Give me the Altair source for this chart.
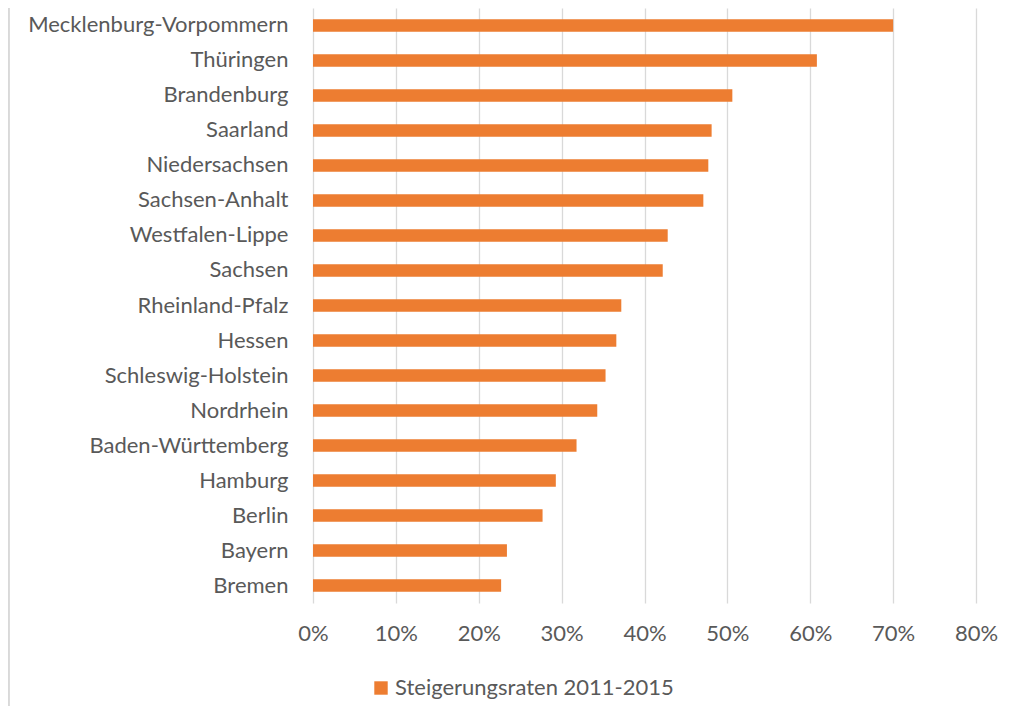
import altair as alt
import pandas as pd

states = ["Mecklenburg-Vorpommern", "Thüringen", "Brandenburg", "Saarland",
          "Niedersachsen", "Sachsen-Anhalt", "Westfalen-Lippe", "Sachsen",
          "Rheinland-Pfalz", "Hessen", "Schleswig-Holstein", "Nordrhein",
          "Baden-Württemberg", "Hamburg", "Berlin", "Bayern", "Bremen"]
rates = [0.700, 0.608, 0.506, 0.481, 0.477, 0.471, 0.428, 0.422,
         0.372, 0.366, 0.353, 0.343, 0.318, 0.293, 0.277, 0.234, 0.227]
series = "Steigerungsraten 2011-2015"

df = pd.DataFrame({"state": states, "rate": rates, "series": [series] * len(states)})

FONT = "Lato"
GRAY = "#595959"

bars = alt.Chart(df).mark_bar(color="#ED7D31").encode(
    y=alt.Y("state:N", sort=states,
            scale=alt.Scale(paddingInner=0.645, paddingOuter=0.32),
            axis=alt.Axis(title=None, domain=False, ticks=False, grid=False,
                          labelFont=FONT, labelFontSize=22, labelColor=GRAY,
                          labelPadding=25, labelLimit=400)),
    x=alt.X("rate:Q", scale=alt.Scale(domain=[0, 0.8], nice=False),
            axis=alt.Axis(title=None, format=".0%", values=[i / 10 for i in range(9)],
                          domain=False, ticks=False, grid=True, labelFlush=False,
                          gridColor="#d9d9d9", gridWidth=1.3,
                          labelFont=FONT, labelFontSize=22, labelColor=GRAY,
                          labelPadding=20)),
    color=alt.Color("series:N", scale=alt.Scale(range=["#ED7D31"]),
                    legend=alt.Legend(title=None, orient="none", legendX=57, legendY=669,
                                      symbolType="square", symbolSize=180,
                                      symbolStrokeWidth=0, labelOffset=3, labelLimit=500,
                                      labelFont=FONT, labelFontSize=22, labelColor=GRAY,
                                      padding=0)),
)

border = alt.Chart(df).mark_rule(color="#d9d9d9", strokeWidth=1.5).encode(
    x=alt.value(-304.5), y=alt.value(-8), y2=alt.value(700)
)

chart = alt.layer(border, bars).properties(
    width=663, height=595,
    autosize=alt.AutoSizeParams(type="none"),
    padding={"left": 305, "top": 0, "right": 30, "bottom": 110},
).configure_view(stroke=None)

chart.save("out.html", embed_options={"renderer": "svg", "actions": False})
